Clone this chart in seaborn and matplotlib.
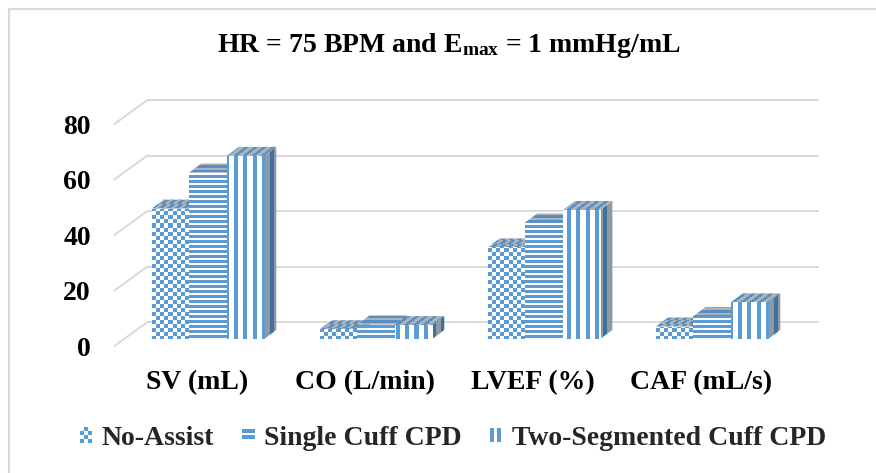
import numpy as np
import pandas as pd
import matplotlib
matplotlib.use("Agg")
import matplotlib.pyplot as plt
import seaborn as sns
from matplotlib.patches import Polygon, Rectangle, Patch
from matplotlib.transforms import ScaledTranslation
from matplotlib.legend_handler import HandlerBase

# ---------------- data ----------------
metrics = ["SV (mL)", "CO (L/min)", "LVEF (%)", "CAF (mL/s)"]
series = ["No-Assist", "Single Cuff CPD", "Two-Segmented Cuff CPD"]
no_assist = [47, 3.5, 33, 4.5]
single_cuff = [60, 5.2, 42, 8.2]
two_segmented = [66, 5.0, 46.5, 13.2]
y_ticks = [0, 20, 40, 60, 80]
title = r"HR = 75 BPM and E$_{\mathbf{max}}$ = 1 mmHg/mL"

df = pd.DataFrame({
    "metric": metrics * 3,
    "series": [s for s in series for _ in metrics],
    "value": no_assist + single_cuff + two_segmented,
})

# ---------------- style ----------------
sns.set_theme(style="white")
plt.rcParams["font.family"] = ["Liberation Serif", "DejaVu Serif"]
plt.rcParams["font.weight"] = "bold"
plt.rcParams["mathtext.fontset"] = "custom"
plt.rcParams["mathtext.rm"] = "Liberation Serif:bold"
plt.rcParams["mathtext.bf"] = "Liberation Serif:bold"
plt.rcParams["mathtext.it"] = "Liberation Serif:bold:italic"

W, H, DPI = 876, 473, 100
BLUE = "#5B9BD5"
GRID = "#d9d9d9"

# layout in pixels
AX_L, AX_T, AX_R, AX_B = 100, 90, 840, 360
ZERO_Y = 339.0        # bar front plane zero (px from top)
CAT0_X = 208.0        # first category center (px)
PX_CAT = 168.0        # px per category
PX_UNIT = 2.775       # px per value unit
BACK = (23.4, 17.0)   # back wall offset (px right, px up)
FRONT = (-9.6, -7.0)  # front floor edge offset
DEPTH = (12.0, 9.0)   # bar depth (px right, px up)

fig = plt.figure(figsize=(W / DPI, H / DPI), dpi=DPI)
ax = fig.add_axes([AX_L / W, 1 - AX_B / H, (AX_R - AX_L) / W, (AX_B - AX_T) / H])

xlim = ((AX_L - CAT0_X) / PX_CAT, (AX_R - CAT0_X) / PX_CAT)
ylim = ((ZERO_Y - AX_B) / PX_UNIT, (ZERO_Y - AX_T) / PX_UNIT)

def dx(px):
    return px / PX_CAT

def dy(px):
    return px / PX_UNIT

# back wall gridlines + side diagonals
for v in y_ticks:
    ax.plot([-0.5 + dx(BACK[0]), 3.5 + dx(BACK[0])], [v + dy(BACK[1])] * 2,
            color=GRID, lw=1.4, zorder=1, solid_capstyle="butt")
    ax.plot([-0.5 + dx(FRONT[0]), -0.5 + dx(BACK[0])],
            [v + dy(FRONT[1]), v + dy(BACK[1])],
            color=GRID, lw=1.4, zorder=1)

# bars
sns.barplot(data=df, x="metric", y="value", hue="series", order=metrics,
            hue_order=series, width=0.67, palette=["white"] * 3, saturation=1,
            legend=False, ax=ax, linewidth=0)

# pattern arrays (pixel aligned to the axes box)
nx, ny = AX_R - AX_L, AX_B - AX_T
X, Y = np.meshgrid(np.arange(nx) + AX_L + 0.5, np.arange(ny) + AX_T + 0.5)
k_top = DEPTH[0] / DEPTH[1]
k_side = DEPTH[1] / DEPTH[0]

def pattern(kind, u, v):
    if kind == 0:
        return ((np.floor(u / 4) + np.floor(v / 4)) % 2) == 0
    if kind == 1:
        return (np.floor(v) % 5) < 3
    return (np.floor(u) % 9) < 4

def to_rgba(mask, fg, bg):
    fg = np.array(matplotlib.colors.to_rgba(fg))
    bg = np.array(matplotlib.colors.to_rgba(bg))
    return np.where(mask[..., None], fg, bg)

face_cols = {"front": (BLUE, "#ffffff"), "top": ("#5a8dc0", "#aab2ba"),
             "side": ("#41709f", "#8f99a3")}
imgs = {}
for kind in range(3):
    imgs[(kind, "front")] = to_rgba(pattern(kind, X, Y), *face_cols["front"])
    imgs[(kind, "top")] = to_rgba(pattern(kind, X + Y * k_top, Y), *face_cols["top"])
    imgs[(kind, "side")] = to_rgba(pattern(kind, X, Y + X * k_side), *face_cols["side"])

ddx, ddy = dx(DEPTH[0]), dy(DEPTH[1])
extent = (xlim[0], xlim[1], ylim[0], ylim[1])

def fill(patch, arr, z):
    im = ax.imshow(arr, extent=extent, origin="upper", interpolation="nearest",
                   aspect="auto", zorder=z)
    im.set_clip_path(patch)

for j, cont in enumerate(ax.containers):
    for i, bar in enumerate(cont):
        bar.set_facecolor("none")
        bar.set_edgecolor("none")
        x0, w, h = bar.get_x(), bar.get_width(), bar.get_height()
        z = 2 + (i * 3 + j) * 0.01
        side = Polygon([(x0 + w, 0), (x0 + w + ddx, ddy), (x0 + w + ddx, h + ddy), (x0 + w, h)],
                       closed=True, facecolor="none", edgecolor="none", lw=0)
        top = Polygon([(x0, h), (x0 + w, h), (x0 + w + ddx, h + ddy), (x0 + ddx, h + ddy)],
                      closed=True, facecolor="none", edgecolor="none", lw=0)
        ax.add_patch(side)
        ax.add_patch(top)
        fill(side, imgs[(j, "side")], z)
        fill(top, imgs[(j, "top")], z + 0.002)
        fill(bar, imgs[(j, "front")], z + 0.004)

ax.set_xlim(*xlim)
ax.set_ylim(*ylim)
ax.set_facecolor("none")
for s in ax.spines.values():
    s.set_visible(False)
ax.grid(False)
ax.set_xlabel("")
ax.set_ylabel("")
ax.set_yticks(y_ticks)
ax.set_yticklabels([str(t) for t in y_ticks])
ax.set_xticks(range(len(metrics)))
ax.set_xticklabels(metrics)
ax.tick_params(axis="both", length=0, labelsize=20, colors="black")
ax.tick_params(axis="y", pad=6.5)
ax.tick_params(axis="x", pad=7)
for lab in ax.get_yticklabels():
    lab.set_fontweight("bold")
    lab.set_transform(lab.get_transform() + ScaledTranslation(0, -7 / DPI, fig.dpi_scale_trans))
for lab in ax.get_xticklabels():
    lab.set_fontweight("bold")
    lab.set_transform(lab.get_transform() + ScaledTranslation(-11 / DPI, 0, fig.dpi_scale_trans))

# title
fig.text(449 / W, 1 - 45 / H, title, ha="center", va="center", fontsize=20,
         fontweight="bold", color="black")

# legend with pattern keys
class PatternHandler(HandlerBase):
    def __init__(self, kind):
        super().__init__()
        self.kind = kind

    def create_artists(self, legend, orig_handle, xdescent, ydescent, width, height,
                       fontsize, trans):
        arts = []
        x0, y0 = -xdescent, -ydescent
        if self.kind == 0:
            nc, nr = 3, 4
            cw, ch = width / nc, height / nr
            for r in range(nr):
                for c in range(nc):
                    if (r + c) % 2 == 0:
                        arts.append(Rectangle((x0 + c * cw, y0 + r * ch), cw, ch,
                                              facecolor=BLUE, lw=0, transform=trans))
        elif self.kind == 1:
            for yy in (0.2, 0.58):
                arts.append(Rectangle((x0, y0 + yy * height), width, 0.25 * height,
                                      facecolor=BLUE, lw=0, transform=trans))
        else:
            for xx in (0.05, 0.6):
                arts.append(Rectangle((x0 + xx * width, y0 + 0.05 * height), 0.32 * width,
                                      0.9 * height, facecolor=BLUE, lw=0, transform=trans))
        return arts

handles = [Patch(facecolor=BLUE, label=s) for s in series]
fig.legend(handles, series, loc="center", bbox_to_anchor=(453 / W, 1 - 438 / H),
           ncol=3, frameon=False, handlelength=0.45, handleheight=0.5,
           handletextpad=0.35, columnspacing=1.0, borderaxespad=0, borderpad=0,
           prop={"size": 20, "weight": "bold"},
           handler_map={handles[k]: PatternHandler(k) for k in range(3)})

# outer chart border
fig.patches.append(Rectangle((9 / W, -0.5), 2, 1.5 - 8.5 / H, transform=fig.transFigure,
                             fill=False, edgecolor=GRID, lw=1.5))

fig.savefig("out.png", dpi=DPI)
